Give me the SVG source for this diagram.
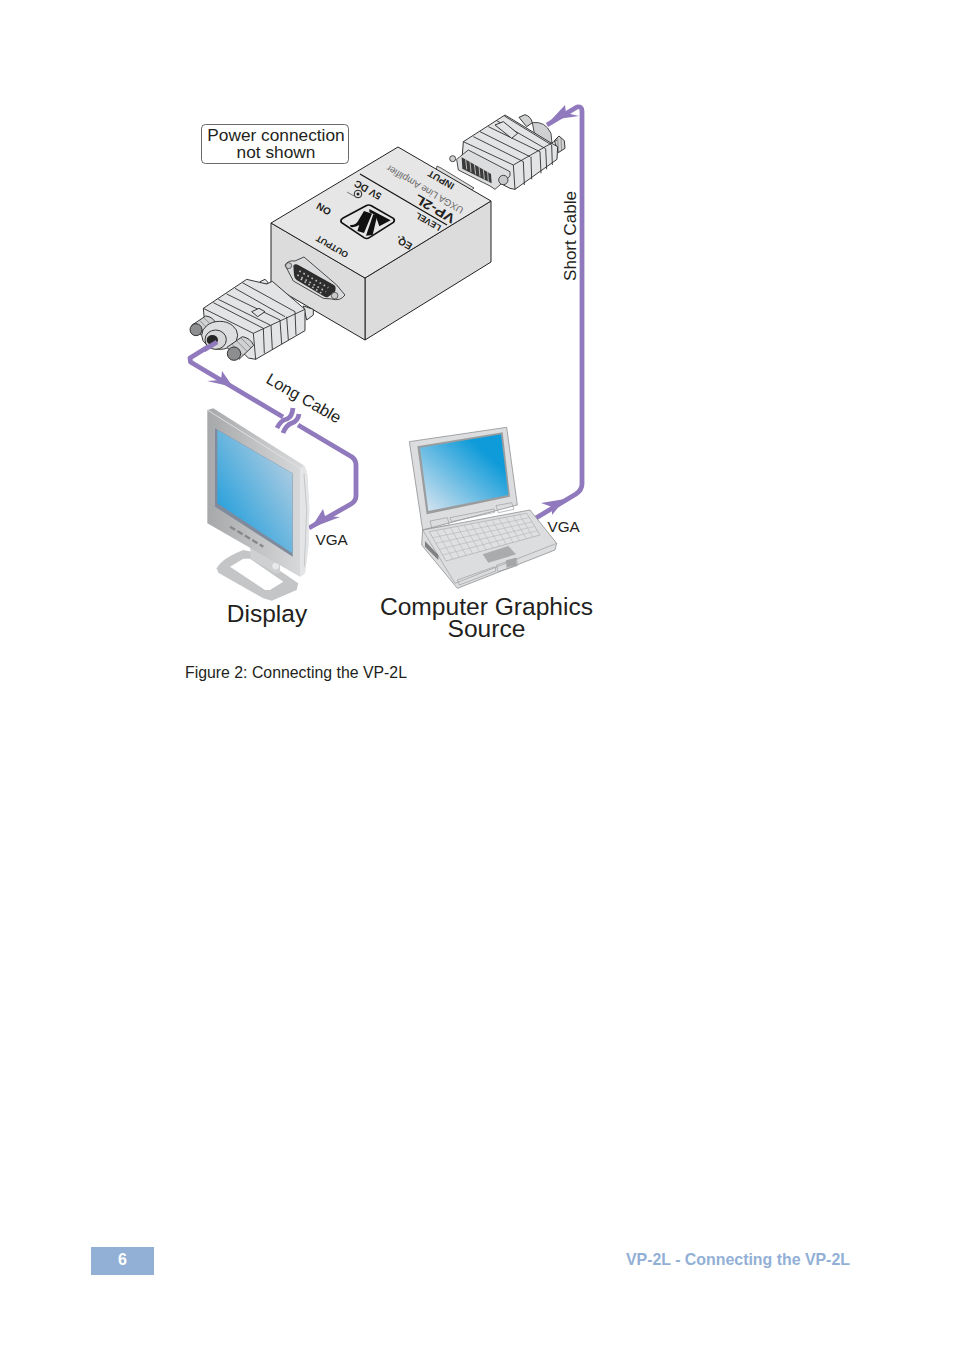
<svg xmlns="http://www.w3.org/2000/svg" width="954" height="1354" viewBox="0 0 954 1354">
<style>
text{font-family:"Liberation Sans",Arial,sans-serif;fill:#231f20}
.c{text-anchor:middle}
.cable{fill:none;stroke:#9079bd;stroke-width:4.800;stroke-linejoin:round;stroke-linecap:butt}
.head{fill:#9079bd;stroke:none}
.dk{fill:none;stroke:#2a2a2a;stroke-width:2.600;stroke-linejoin:round}
.mt{fill:#e3e4e5;stroke:#2a2a2a;stroke-width:2.800;stroke-linejoin:round}
.sc{fill:#d0d1d2;stroke:#2a2a2a;stroke-width:2.800;stroke-linejoin:round}
.kn{fill:none;stroke:#555;stroke-width:1.600}
.end{fill:#8d8e8f;stroke:#2a2a2a;stroke-width:2.800}
.lt{fill:#dcddde;stroke:#8f9193;stroke-width:2.400;stroke-linejoin:round}
.lb{fill:none;stroke:#9a9c9e;stroke-width:2}
.face{font-size:8.700px;font-weight:bold;text-anchor:middle}
</style>
<defs>
<linearGradient id="mon" x1="0" y1="1" x2="1" y2="0"><stop offset="0.1" stop-color="#1a9cdb"/><stop offset="0.9" stop-color="#b6cfe2"/></linearGradient>
<linearGradient id="lap" x1="0" y1="1" x2="1" y2="0"><stop offset="0.05" stop-color="#d2e2ef"/><stop offset="0.75" stop-color="#0f9bd9"/></linearGradient>
<linearGradient id="bez" x1="0" y1="0" x2="1" y2="0"><stop offset="0" stop-color="#a6a8aa"/><stop offset="1" stop-color="#dcddde"/></linearGradient>
</defs>

<g id="connectors">
<path class="cable" d="M211,345 L190,358 L190.500,362 L283,417"/>
<path class="head" d="M233,387 L222,371 L221,380 L207,381Z"/>
<path class="cable" d="M298,425 L352,457 Q356,460 356,465 L356,496 Q356,501 351,504 L309,528"/>
<path class="head" d="M311,528 L323,509 L325,516 L340,517Z"/>
<path class="cable" d="M277,428 Q281,420 287,419 Q292,417 293,408" stroke-linecap="round"/>
<path class="cable" d="M283,433 Q286,425 292,423 Q298,421 299,414" stroke-linecap="round"/>
<path class="cable" d="M531,521 L576,494 Q582,490 582,484 L582,111 Q582,106 577,107 L547,125"/>
<path class="head" d="M565,499 L541,503 L552,507 L552,515Z"/>
<path class="head" d="M551,120 L565,105 L566,113 L579,116Z"/>
</g>

<g id="callout">
<rect x="201.500" y="124.500" width="147" height="39" rx="4" fill="#fff" stroke="#444" stroke-width="0.800"/>
<text class="c" x="276" y="141" font-size="17.300">Power connection</text>
<text class="c" x="276" y="158" font-size="17.300">not shown</text>
</g>

<g id="vp2l">
<path d="M365,278 L491,201 L491,262 L365,340Z" fill="#dcdcdd" stroke="#222" stroke-width="1"/>
<path d="M271,223 L365,278 L365,340 L271,285Z" fill="#dcdcdd" stroke="#222" stroke-width="1"/>
<path d="M437,166 L441,168 L474,188 L470,191 L436,171Z" fill="#dcdcdd" stroke="#333" stroke-width="0.800"/>
<path d="M271,223 L398,147 L491,201 L365,278Z" fill="#e6e6e7" stroke="#222" stroke-width="1"/>
<path d="M360,174 L447,225" stroke="#111" stroke-width="1.200"/>
<text class="face" transform="translate(333.600,244) rotate(210)">OUTPUT</text>
<text class="face" style="font-size:10px" transform="translate(325.600,206) rotate(210)">ON</text>
<text class="face" style="font-size:10px" transform="translate(369.600,187) rotate(210)">5V DC</text>
<text class="face" style="font-size:9.500px" transform="translate(442.600,177) rotate(210)">INPUT</text>
<text class="face" style="font-size:13px" textLength="44" lengthAdjust="spacingAndGlyphs" transform="translate(437,205) rotate(210)" x="0">VP-2L</text>
<text transform="translate(426.500,186.500) rotate(210)" text-anchor="middle" style="font-size:9.600px;fill:#666">UXGA Line Amplifier</text>
<text class="face" transform="translate(429.600,219) rotate(210)">LEVEL</text>
<text class="face" style="font-size:10px" transform="translate(405.600,240) rotate(210)">EQ.</text>
<circle cx="358" cy="194" r="3.800" fill="#e6e6e7" stroke="#222"/><circle cx="358" cy="194" r="1.500" fill="#222"/>
<path d="M354,196 L347,192" stroke="#333" stroke-width="0.600"/>
<g transform="translate(340,165) scale(0.33333)">
<path d="M4,172 Q0,165 8,160 L78,122 Q86,118 94,122 L160,160 Q166,166 160,172 L88,218 Q80,223 72,218Z" fill="#e6e6e7" stroke="#111" stroke-width="5"/>
<path d="M30,180 Q48,182 56,165 L72,138 L96,146 L72,204 L52,198 L58,180 Q46,188 32,186Z" fill="#111"/>
<path d="M100,148 L112,150 L98,210 L78,212Z" fill="#111"/>
<path d="M88,132 L152,166 L118,184 L106,150 L88,142Z" fill="#111"/>
</g>
<g transform="translate(180,95) scale(0.33333)">
<path d="M315,510 Q325,495 345,498 L372,486 L470,570 L495,600 Q480,620 455,612 L430,610 L340,558Z" fill="#dadbdc" stroke="#2a2a2a" stroke-width="2.500"/>
<path d="M340,512 Q345,505 355,510 L462,570 Q470,575 465,590 L445,605 Q440,610 430,603 L350,555 Q343,550 342,540Z" fill="#2d2d2d"/>
<path d="M358,528 L445,578 M352,540 L438,590 M362,552 L430,598" stroke="#bbb" stroke-width="5" stroke-dasharray="5 9" fill="none"/>
<circle cx="326" cy="512" r="9" fill="#c8c9ca" stroke="#2a2a2a" stroke-width="2"/>
<circle cx="464" cy="602" r="10" fill="#c8c9ca" stroke="#2a2a2a" stroke-width="2"/>
</g>
</g>

<g id="long-connector" transform="translate(185,270) scale(0.33333)">
<path class="mt" d="M225,35 L240,28 L250,38 L235,48Z"/>
<path class="mt" d="M355,108 L385,118 L385,135 L365,150Z"/>
<path class="mt" d="M55,115 L185,28 L245,42 L262,34 L360,118 L360,182 L212,268 L190,264 L130,205 L58,150Z"/>
<path class="dk" d="M55,115 L205,190 L212,268 M205,190 L360,118"/>
<path class="dk" d="M85,98 L235,175 M100,88 L255,165 M125,72 L285,150 M150,55 L300,140 M172,38 L330,125"/>
<path class="dk" d="M235,175 L238,250 M258,165 L262,238 M285,150 L290,222 M305,140 L310,210 M330,125 L333,195"/>
<path class="mt" d="M200,125 L222,115 L240,125 L218,140Z"/>
<path class="sc" d="M20,166 L62,138 Q84,140 92,160 L48,196Z"/>
<path class="kn" d="M32,158 L60,190 M44,151 L72,180 M56,143 L84,170"/>
<circle class="end" cx="33" cy="179" r="18"/>
<ellipse cx="104" cy="196" rx="54" ry="42" fill="#dddedf" stroke="#2a2a2a" stroke-width="2.800"/>
<ellipse cx="92" cy="209" rx="32" ry="29" fill="#d6d7d8" stroke="#2a2a2a" stroke-width="2.800"/>
<ellipse cx="82" cy="210" rx="17" ry="15" fill="#252525"/>
<path class="sc" d="M126,232 L172,200 Q196,204 206,226 L162,268Z"/>
<path class="kn" d="M140,222 L174,256 M154,212 L186,244 M168,204 L198,234"/>
<circle class="end" cx="147" cy="251" r="20"/>
</g>
<path class="cable" d="M217,342 L204,350" />

<g id="input-connector" transform="translate(445,100) scale(0.33333)">
<path class="sc" d="M222,52 L240,44 Q258,50 262,68 L245,80Z"/>
<path d="M262,68 Q300,62 318,100 L322,140 L270,110Z" fill="#cfd0d1" stroke="#2a2a2a" stroke-width="2.500"/>
<path class="sc" d="M328,122 L342,108 L358,122 L360,145 L340,158Z"/>
<path class="kn" d="M338,114 L340,155 M348,114 L350,150"/>
<path class="mt" d="M55,125 L180,45 L320,130 L338,140 L336,178 L210,268 L195,265 L50,190Z"/>
<path class="dk" d="M55,125 L205,195 L210,268 M205,195 L336,120"/>
<path class="dk" d="M85,110 L235,185 M105,95 L255,170 M130,80 L285,155 M155,62 L300,145 M178,48 L320,135"/>
<path class="dk" d="M235,185 L238,255 M258,170 L260,238 M285,155 L288,220 M302,145 L305,208 M320,135 L322,195"/>
<path class="mt" d="M150,75 L175,65 L218,100 L200,115Z"/>
<path d="M70,150 L195,215 L195,228 L150,268 L135,258 L40,210 L35,178Z" fill="#dcddde" stroke="#2a2a2a" stroke-width="2.500"/>
<path d="M50,172 L138,222 L140,250 L52,206Z" fill="#3a3a3a"/>
<path d="M62,178 L65,208 M75,185 L78,216 M88,192 L92,223 M102,200 L105,230 M115,208 L118,238 M128,216 L130,245" stroke="#bbb" stroke-width="3"/>
<circle cx="23" cy="176" r="9" fill="#d0d1d2" stroke="#2a2a2a" stroke-width="2.500"/>
<circle cx="175" cy="240" r="14" fill="#c8c9ca" stroke="#2a2a2a" stroke-width="2.500"/>
</g>

<g id="display" transform="translate(180,360) scale(0.33333)">
<path d="M110,625 Q125,595 190,570 L215,575 L355,670 L350,690 L275,722 L250,715 L115,638Z" fill="#c4c5c7"/>
<path d="M150,620 L190,596 L210,596 L310,665 L270,690 L255,690Z" fill="#fff"/>
<path d="M210,550 L300,590 L300,640 L285,640 L212,595Z" fill="#cfd0d1"/>
<circle cx="287" cy="618" r="10" fill="#e9e9ea"/>
<path d="M82,150 L100,145 L370,315 L380,335 L388,440 L385,560 L375,640 L360,650 L82,490Z" fill="url(#bez)"/>
<path d="M360,325 L375,318 L383,345 L388,450 L385,560 L375,640 L360,650Z" fill="#e4e5e6"/>
<path d="M372,340 L380,450 L373,620" fill="none" stroke="#b5b6b8" stroke-width="2"/>
<path d="M82,150 L360,325" stroke="#dfe0e1" stroke-width="3" fill="none"/>
<path d="M105,205 L338,340 L338,590 L105,440Z" fill="#7f8a9c"/>
<path d="M112,210 L337,340 L337,580 L112,430Z" fill="url(#mon)"/>
<path d="M150,500 L250,560" stroke="#85878a" stroke-width="7" stroke-dasharray="18 8" fill="none"/>
</g>

<g id="laptop" transform="translate(370,415) scale(0.33333)">
<path class="lt" d="M118,80 L410,37 L442,270 L158,345Z"/>
<path d="M142,94 L398,52 L420,245 L170,298Z" fill="#9a9c9e"/>
<path d="M150,98 L393,58 L415,240 L175,288Z" fill="url(#lap)"/>
<path class="lb" d="M180,318 L232,308 L238,330 L186,340Z M378,272 L425,263 L432,283 L385,293Z M240,308 L372,282 L374,292 L244,320Z"/>
<path class="lt" d="M158,345 L480,285 L560,385 L555,405 L262,520 L155,390Z"/>
<path class="lb" d="M158,345 L255,505 L560,385"/>
<path d="M165,378 L205,420 L205,435 L165,395Z" fill="#7f8183"/>
<path d="M178,350 L470,295 L510,360 L228,438Z" fill="#dfe0e1" stroke="#a8aaac" stroke-width="2"/>
<path style="fill:none;stroke:#b4b6b8;stroke-width:1.800" d="M188,368 L478,308 M198,385 L486,321 M208,403 L494,334 M218,420 L502,347 M199,346 L248,432 M220,342 L268,427 M241,338 L288,421 M262,334 L308,416 M282,330 L329,410 M303,326 L349,405 M324,322 L369,399 M345,319 L389,393 M366,315 L409,388 M387,311 L429,382 M408,307 L449,377 M429,303 L469,371 M449,299 L489,366"/>
<path d="M338,418 L415,393 L438,418 L355,443Z" fill="#a9abad"/>
<path class="lb" d="M262,495 L375,455 L378,468 L268,510Z M380,450 L440,430 L442,452 L384,470Z"/>
<path d="M408,436 L438,428 L440,450 L410,458Z" fill="#a4a6a8"/>
</g>

<g id="labels">
<text transform="translate(301,403) rotate(30)" class="c" font-size="16.300">Long Cable</text>
<text transform="translate(576,236) rotate(-90)" class="c" font-size="17">Short Cable</text>
<text x="315.500" y="545" font-size="15.300">VGA</text>
<text x="547.500" y="532" font-size="15.300">VGA</text>
<text class="c" x="267" y="622" font-size="24.500">Display</text>
<text class="c" x="486.500" y="615" font-size="24.600">Computer Graphics</text>
<text class="c" x="486.500" y="637" font-size="24.600">Source</text>
<text x="185" y="678" font-size="15.850">Figure 2: Connecting the VP-2L</text>
</g>

<g id="footer">
<rect x="91" y="1247" width="63" height="28" fill="#92b0d6"/>
<text class="c" x="122.500" y="1265" font-size="16" font-weight="bold" style="fill:#fff">6</text>
<text x="626" y="1265" font-size="15.900" font-weight="bold" style="fill:#92b0d6">VP-2L - Connecting the VP-2L</text>
</g>
</svg>
